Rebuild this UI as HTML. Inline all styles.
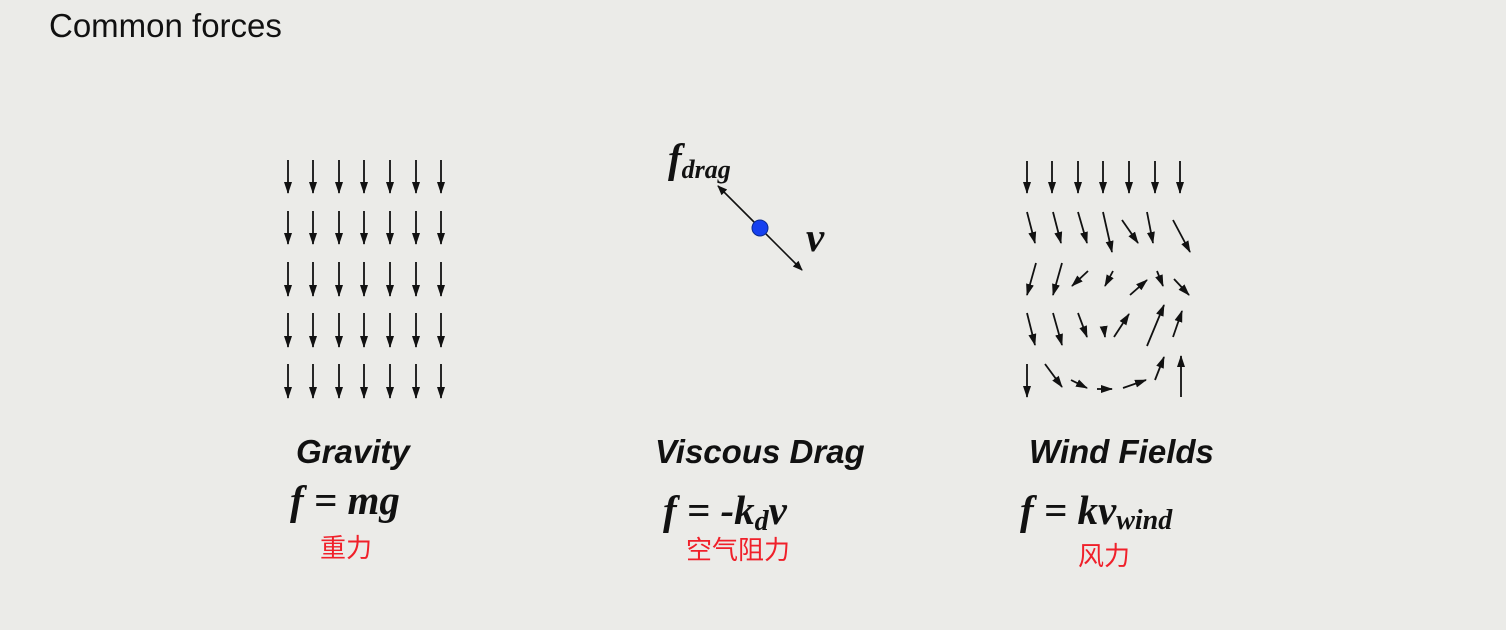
<!DOCTYPE html>
<html><head><meta charset="utf-8"><style>
html,body{margin:0;padding:0;background:#ebebe8;}
svg{display:block;}
.lbl{font-family:"Liberation Sans",sans-serif;font-weight:bold;font-style:italic;font-size:33px;fill:#111;}
.eq{font-family:"Liberation Serif",serif;font-weight:bold;font-style:italic;font-size:41px;fill:#111;}
.cn{font-family:"Liberation Sans","Noto Sans CJK SC",sans-serif;font-size:26px;fill:#f0202a;}
</style></head><body>
<svg id="slide" width="1506" height="630" viewBox="0 0 1506 630" xmlns="http://www.w3.org/2000/svg">
<defs>
<marker id="ah" viewBox="0 0 12 10" refX="11" refY="5" markerWidth="12" markerHeight="10" markerUnits="userSpaceOnUse" orient="auto"><path d="M0,1 L12,5 L0,9 z" fill="#111"/></marker>
<marker id="ah2" viewBox="0 0 10 10" refX="9" refY="5" markerWidth="10" markerHeight="10" markerUnits="userSpaceOnUse" orient="auto"><path d="M0,1 L10,5 L0,9 z" fill="#111"/></marker>
</defs>
<rect width="1506" height="630" fill="#ebebe8"/>
<text x="49" y="37" font-family="Liberation Sans, sans-serif" font-size="33" fill="#111">Common forces</text>
<g id="gravity"></g>
<g id="wind"></g>
<g>
<line x1="760" y1="228" x2="718" y2="186" stroke="#111" stroke-width="1.6" marker-end="url(#ah2)"/>
<line x1="760" y1="228" x2="802" y2="270" stroke="#111" stroke-width="1.6" marker-end="url(#ah2)"/>
<circle cx="760" cy="228" r="8" fill="#1540f0" stroke="#0a2a90" stroke-width="1"/>
<text class="eq" x="668" y="172" font-size="40">f<tspan font-size="26" dy="6">drag</tspan></text>
<text class="eq" x="806" y="251" font-size="40">v</text>
</g>
<text class="lbl" x="296" y="463">Gravity</text>
<text class="eq" x="290" y="514">f = mg</text>
<text class="cn" x="320" y="557">重力</text>
<text class="lbl" x="655" y="463">Viscous Drag</text>
<text class="eq" x="663" y="524">f = -k<tspan font-size="28" dy="6">d</tspan><tspan dy="-6">v</tspan></text>
<text class="cn" x="686" y="559">空气阻力</text>
<text class="lbl" x="1029" y="463">Wind Fields</text>
<text class="eq" x="1020" y="524">f = kv<tspan font-size="28" dy="5">wind</tspan></text>
<text class="cn" x="1078" y="565">风力</text>
</svg>
<script>
const gravityCols = [288,313,339,364,390,416,441];
const gravityRows = [[160,193],[211,244],[262,296],[313,347],[364,398]];
const windArrows = [
[1027,161,1027,193],[1052,161,1052,193],[1078,161,1078,193],[1103,161,1103,193],[1129,161,1129,193],[1155,161,1155,193],[1180,161,1180,193],
[1027,212,1035,243],[1053,212,1061,243],[1078,212,1087,243],[1103,212,1112,252],[1122,220,1138,243],[1147,212,1153,243],[1173,220,1190,252],
[1036,263,1027,295],[1062,263,1053,295],[1088,271,1072,286],[1113,271,1105,286],[1130,295,1147,280],[1157,271,1163,286],[1174,279,1189,295],
[1027,313,1035,345],[1053,313,1062,345],[1078,313,1087,337],[1104,329,1105,337],[1114,337,1129,314],[1147,346,1164,305],[1173,337,1182,311],
[1027,364,1027,397],[1045,364,1062,387],[1071,380,1087,388],[1097,389,1112,389],[1123,388,1146,380],[1155,380,1164,357],[1181,397,1181,356]
];
const NS='http://www.w3.org/2000/svg';
function arrow(g,x1,y1,x2,y2,name){
  const l=document.createElementNS(NS,'line');
  l.setAttribute('x1',x1);l.setAttribute('y1',y1);l.setAttribute('x2',x2);l.setAttribute('y2',y2);
  l.setAttribute('stroke','#111');l.setAttribute('stroke-width','1.8');l.setAttribute('marker-end','url(#ah)');
  
  
  g.appendChild(l);
}
const gg=document.getElementById('gravity');
gravityRows.forEach(r=>gravityCols.forEach(x=>arrow(gg,x,r[0],x,r[1],'gravity-arrow')));
const wg=document.getElementById('wind');
windArrows.forEach(a=>arrow(wg,a[0],a[1],a[2],a[3],'wind-arrow'));
</script>
</body></html>
